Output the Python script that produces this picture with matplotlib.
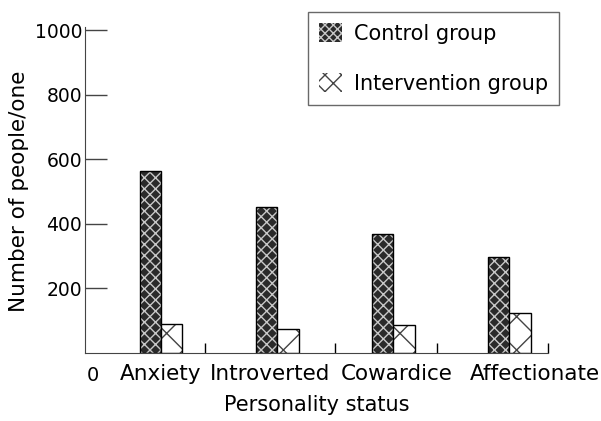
import matplotlib
matplotlib.use('Agg')
import matplotlib.pyplot as plt
from matplotlib.patches import Patch
import numpy as np

categories = ['Anxiety', 'Introverted', 'Cowardice', 'Affectionate']
control = [563, 451, 368, 297]
intervention = [90, 74, 87, 124]
yticks = [200, 400, 600, 800, 1000]

plt.rcParams['font.family'] = 'DejaVu Sans'
plt.rcParams['hatch.linewidth'] = 1.0

fig = plt.figure(figsize=(6.01, 4.21), dpi=100)
ax = fig.add_axes([0.1414, 0.1615, 0.7706, 0.7672])

x = np.arange(len(categories))
w = 0.185

# control group: dark fill with light cross pattern
ax.bar(x - w / 2, control, w, color='#2a2a2a', edgecolor='#c8c8c8', hatch='xxx', linewidth=0)
ax.bar(x - w / 2, control, w, fill=False, edgecolor='black', linewidth=1)
# intervention group: white with big grey crosses
ax.bar(x + w / 2, intervention, w, color='white', edgecolor='#444444', hatch='x', linewidth=0)
ax.bar(x + w / 2, intervention, w, fill=False, edgecolor='black', linewidth=1)

ax.set_xlim(-0.655, 3.336)
ax.set_ylim(0, 1000)
ax.spines['top'].set_visible(False)
ax.spines['right'].set_visible(False)
ax.spines['left'].set_color('#444444')
ax.spines['bottom'].set_color('#444444')
ax.spines['left'].set_bounds(0, 1008)

ax.set_yticks(yticks)
ax.set_yticklabels([str(v) for v in yticks], fontsize=13.5)
ax.tick_params(axis='y', direction='in', length=16, width=1, color='#444444', pad=2)

# category labels (spread a little to avoid overlap), separator ticks between groups
ax.set_xticks([0, 0.94, 2.03, 3.22])
ax.set_xticklabels(categories, fontsize=15.5)
ax.tick_params(axis='x', which='major', length=0, pad=8)
ax.set_xticks([0.379, 1.5, 2.379, 3.336], minor=True)
ax.tick_params(axis='x', which='minor', direction='in', length=7, width=1, color='black')

ax.text(-0.64, -40, '0', fontsize=14, ha='left', va='top')

ax.set_xlabel('Personality status', fontsize=15, labelpad=8)
ax.set_ylabel('Number of people/one', fontsize=15.5, labelpad=4)

handles = [
    Patch(facecolor='#2a2a2a', edgecolor='#c8c8c8', hatch='xxxx', linewidth=0),
    Patch(facecolor='white', edgecolor='#444444', hatch='xx', linewidth=0),
]
leg = fig.legend(handles, ['Control group', 'Intervention group'],
                 loc='upper left', bbox_to_anchor=(0.5125, 0.9715),
                 borderaxespad=0, fontsize=15, frameon=True, fancybox=False,
                 handlelength=1.1, handleheight=1.0, labelspacing=1.4,
                 borderpad=0.55, handletextpad=0.55)
leg.get_frame().set_edgecolor('#444444')
leg.get_frame().set_linewidth(1)

plt.savefig('out.png', dpi=100)
